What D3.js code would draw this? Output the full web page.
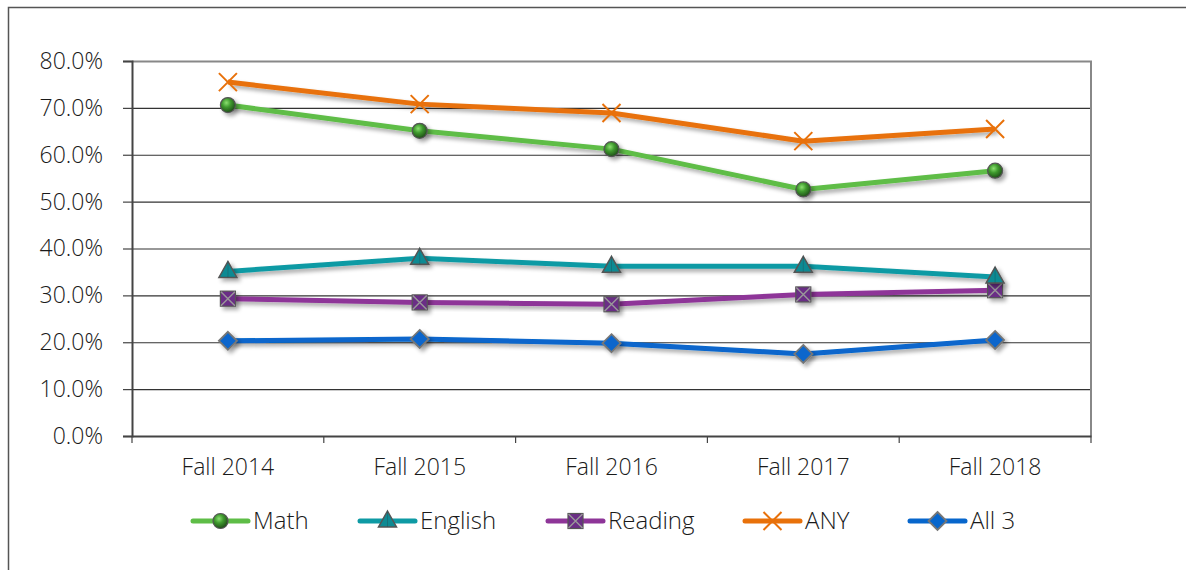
<!DOCTYPE html>
<html><head><meta charset="utf-8">
<script src="https://cdn.jsdelivr.net/npm/d3@7"></script>
<style>body{margin:0;background:#fff}svg{display:block}text{font-family:"Open Sans",sans-serif;font-weight:300;fill:#1a1a1a}</style>
</head><body><svg id="c" width="1186" height="570"></svg>
<script>
const categories = ["Fall 2014","Fall 2015","Fall 2016","Fall 2017","Fall 2018"];
const mathVals    = [70.6, 65.1, 61.2, 52.6, 56.6];
const englishVals = [35.1, 37.9, 36.2, 36.2, 33.9];
const readingVals = [29.3, 28.5, 28.1, 30.2, 31.1];
const anyVals     = [75.5, 70.8, 68.9, 62.9, 65.5];
const all3Vals    = [20.3, 20.7, 19.8, 17.5, 20.5];
const yTicks = [0,10,20,30,40,50,60,70,80];
const seriesNames = ["Math","English","Reading","ANY","All 3"];

const series = [
  {name:seriesNames[0], values:mathVals, color:"#5ebd47", marker:"sphere"},
  {name:seriesNames[1], values:englishVals, color:"#0e9aa4", marker:"triangle"},
  {name:seriesNames[2], values:readingVals, color:"#8e3598", marker:"squarex"},
  {name:seriesNames[3], values:anyVals, color:"#e8710a", marker:"x"},
  {name:seriesNames[4], values:all3Vals, color:"#0766cc", marker:"diamond"}
];

const svg = d3.select("#c");
const defs = svg.append("defs");
const f = defs.append("filter").attr("id","sh").attr("x","-50%").attr("y","-50%").attr("width","200%").attr("height","200%");
f.append("feGaussianBlur").attr("in","SourceAlpha").attr("stdDeviation",2.2).attr("result","b");
f.append("feOffset").attr("in","b").attr("dx",3).attr("dy",3).attr("result","o");
f.append("feComponentTransfer").attr("in","o").attr("result","o2").append("feFuncA").attr("type","linear").attr("slope",0.35);
const fm = f.append("feMerge"); fm.append("feMergeNode").attr("in","o2"); fm.append("feMergeNode").attr("in","SourceGraphic");
const rg = defs.append("radialGradient").attr("id","sph").attr("cx","40%").attr("cy","35%").attr("r","65%");
rg.append("stop").attr("offset","0%").attr("stop-color","#8be070");
rg.append("stop").attr("offset","45%").attr("stop-color","#3f9a2e");
rg.append("stop").attr("offset","100%").attr("stop-color","#1f4f18");

const FS = "23px";
const FF = "Open Sans";
const TC = "#111";
// outer border
svg.append("rect").attr("x",8.5).attr("y",7.5).attr("width",1190).attr("height",580).attr("fill","none").attr("stroke","#555").attr("stroke-width",1.5);

const L=132, R=1091, T=61, B=436;
const x = d3.scaleBand().domain(categories).range([L,R]);
const y = d3.scaleLinear().domain([0,80]).range([B,T]);

// gridlines
svg.append("g").selectAll("line").data(yTicks.slice(1,-1)).join("line")
  .attr("x1",L).attr("x2",R).attr("y1",d=>y(d)+0.5).attr("y2",d=>y(d)+0.5).attr("stroke","#333").attr("stroke-width",1.2);
// plot border top/right
svg.append("path").attr("d",`M${L},${y(80)+0.5}H${R}V${B}`).attr("fill","none").attr("stroke","#888").attr("stroke-width",2);

// y axis
const ya = svg.append("g").attr("transform",`translate(${L},0)`)
  .call(d3.axisLeft(y).tickValues(yTicks).tickSize(9).tickPadding(20).tickFormat(d=>d.toFixed(1)+"%"));
ya.select(".domain").attr("stroke","#444").attr("stroke-width",2);
ya.selectAll(".tick line").attr("stroke","#444").attr("stroke-width",1.2);
ya.selectAll("text").style("font-size",FS).attr("fill",TC).attr("font-family",FF).attr("font-weight",300);

// x axis
const xa = svg.append("g").attr("transform",`translate(0,${B})`)
  .call(d3.axisBottom(x).tickSize(0).tickPadding(23));
xa.select(".domain").attr("stroke","#444").attr("stroke-width",2);
xa.selectAll("text").style("font-size",FS).attr("fill",TC).attr("font-family",FF).attr("font-weight",300);
xa.selectAll("line.bt").data(d3.range(categories.length+1)).join("line").attr("class","bt")
  .attr("x1",i=>L+i*x.step()).attr("x2",i=>L+i*x.step()).attr("y1",0).attr("y2",7).attr("stroke","#444").attr("stroke-width",1.2);

function drawMarker(g, type, color){
  if(type==="sphere"){
    g.append("circle").attr("r",7.5).attr("fill","url(#sph)").attr("stroke","#555").attr("stroke-width",1.2);
  } else if(type==="triangle"){
    g.append("path").attr("d","M0,-10L9,6H-9Z").attr("fill","#0e8a93").attr("stroke","#555").attr("stroke-width",1.5);
    g.append("path").attr("d","M0,-10L0,6").attr("stroke","#1f4f55").attr("stroke-width",0.8).attr("opacity",0.5);
  } else if(type==="squarex"){
    g.append("rect").attr("x",-7.5).attr("y",-7.5).attr("width",15).attr("height",15).attr("fill","#6b2e86").attr("stroke","#555").attr("stroke-width",1.2);
    g.append("path").attr("d","M-7,-7L7,7M7,-7L-7,7").attr("stroke","#999").attr("stroke-width",1.4);
  } else if(type==="x"){
    g.append("path").attr("d","M-9,-9L9,9M9,-9L-9,9").attr("stroke",color).attr("stroke-width",2);
  } else if(type==="diamond"){
    g.append("path").attr("d","M0,-9L9,0L0,9L-9,0Z").attr("fill",color).attr("stroke","#777").attr("stroke-width",1.8);
  }
}

const line = d3.line().x((d,i)=>x(categories[i])+x.bandwidth()/2).y(d=>y(d));
const order = [4,2,1,0,3];
order.forEach(k=>{
  const s = series[k];
  const g = svg.append("g");
  g.append("path").attr("d",line(s.values)).attr("fill","none").attr("stroke",s.color).attr("stroke-width",5).attr("stroke-linejoin","round").attr("filter","url(#sh)");
  s.values.forEach((v,i)=>{
    const m = g.append("g").attr("transform",`translate(${x(categories[i])+x.bandwidth()/2},${y(v)})`).attr("filter", s.marker==="x"?null:"url(#sh)");
    drawMarker(m, s.marker, s.color);
  });
});

// legend
const legX = [193,360,548,745,910];
const legY = 521;
series.forEach((s,i)=>{
  const g = svg.append("g").attr("transform",`translate(${legX[i]},${legY})`);
  g.append("line").attr("x1",0).attr("x2",55).attr("y1",0).attr("y2",0).attr("stroke",s.color).attr("stroke-width",5).attr("stroke-linecap","round");
  const m = g.append("g").attr("transform","translate(27.5,0)");
  drawMarker(m, s.marker, s.color);
  g.append("text").attr("x",60).attr("y",0).attr("dy","0.35em").style("font-size","24px").attr("fill",TC).attr("font-family",FF).attr("font-weight",300).text(s.name);
});
</script></body></html>
